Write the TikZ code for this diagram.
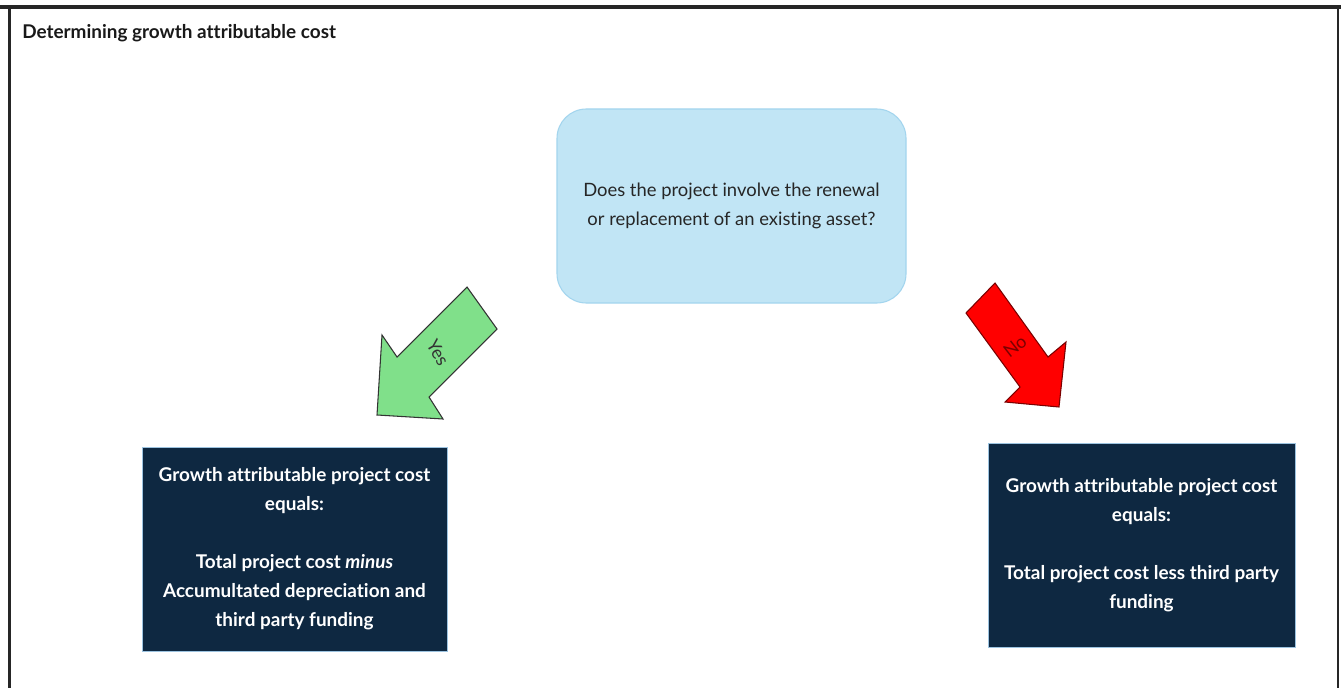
\documentclass[tikz,border=0pt]{standalone}
\usepackage{fontspec}
\setmainfont[Ligatures={NoCommon}]{Lato}
\definecolor{navy}{HTML}{0E2841}
\definecolor{navyedge}{HTML}{9CC3E0}
\definecolor{qfill}{HTML}{C1E5F5}
\definecolor{qedge}{HTML}{A3D5EE}
\definecolor{yesgreen}{HTML}{80E08A}
\definecolor{nored}{HTML}{FF0000}
\definecolor{noedge}{HTML}{7A0000}
\tikzset{
  qbox/.style={draw=qedge, line width=0.8pt, fill=qfill, rounded corners=22pt,
    minimum width=261.75pt, minimum height=145.5pt, align=center,
    text=black!85, font=\fontsize{13.8}{21.75}\selectfont},
  resbox/.style={draw=navyedge, line width=0.7pt, fill=navy,
    minimum height=153pt, align=center, text=white,
    font=\bfseries\fontsize{14.2}{21.75}\selectfont},
  barrow/.style={line width=0.8pt, line join=miter},
  arrlabel/.style={font=\fontsize{13.5}{14}\selectfont, inner sep=1pt}
}
\begin{document}
\begin{tikzpicture}[x=0.75pt,y=-0.75pt]
\useasboundingbox (0,0) rectangle (1341,688);
\fill[white] (0,0) rectangle (1341,688);
% frame
\draw[line width=2.4pt, black!85] (0,7) -- (1341,7);
\draw[line width=1.8pt, black!85] (9.5,7) -- (9.5,688);
\draw[line width=1.8pt, black!85] (1338,7) -- (1338,688);
% title
\node[anchor=west, font=\bfseries\fontsize{14.2}{16}\selectfont, text=black!90, inner sep=0pt] (title) at (22,33) {Determining growth attributable cost};
% question
\node[qbox] (q) at (731.5,206) {Does the project involve the renewal\\or replacement of an existing asset?};
% result boxes
\node[resbox, minimum width=228.75pt] (yesbox) at (294.5,549) {Growth attributable project cost\\equals:\\[21.75pt]Total project cost \textit{minus}\\Accumultated depreciation and\\third party funding};
\node[resbox, minimum width=230.25pt] (nobox) at (1141.5,545) {Growth attributable project cost\\equals:\\[21.75pt]Total project cost less third party\\funding};
% yes arrow
\draw[barrow, draw=black!80, fill=yesgreen] (467,287) -- (497,329) -- (429,397) -- (443,419) -- (377,415) -- (382,335) -- (397,357) -- cycle;
\node[arrlabel, rotate=-60, text=black!80] (yes) at (438,353) {Yes};
% no arrow
\draw[barrow, draw=noedge, fill=nored] (995,283) -- (966,313) -- (1020,387) -- (1005,402) -- (1059,407) -- (1066,342) -- (1048,357) -- cycle;
\node[arrlabel, rotate=38, text=noedge] (no) at (1015,346) {No};
\end{tikzpicture}
\end{document}
